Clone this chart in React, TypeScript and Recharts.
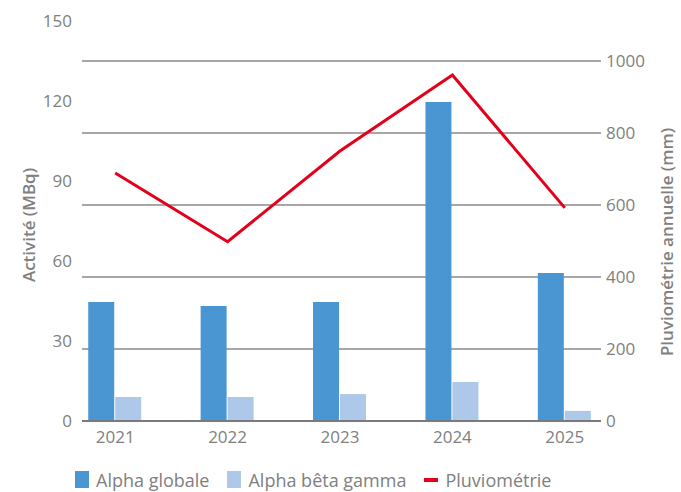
import { ComposedChart, Bar, Line, XAxis, YAxis, CartesianGrid, Legend } from "recharts"

const years = ["2021", "2022", "2023", "2024", "2025"]
const alphaGlobale = [44.6, 43.1, 44.6, 119.6, 55.5]
const alphaBetaGamma = [9, 9, 10.1, 14.6, 3.8]
const pluviometrie = [689, 498, 750, 961, 592]
const leftTicks = [0, 30, 60, 90, 120, 150]
const rightTicks = [0, 200, 400, 600, 800, 1000]

const data = years.map((year, i) => ({
  year,
  alpha: alphaGlobale[i],
  abg: alphaBetaGamma[i],
  pluvio: pluviometrie[i],
}))

const grey = "#808080"
const font = "'Open Sans', sans-serif"
const tick = { fontSize: 17, fill: grey, fontFamily: font }

function LegendContent({ payload }: any) {
  return (
    <div style={{ height: 41, boxSizing: "border-box", paddingTop: 20, display: "flex", alignItems: "flex-start", paddingLeft: 75, fontFamily: font, fontSize: 18, color: grey }}>
      {(payload || []).map((p: any) => (
        <div key={p.value} style={{ display: "flex", alignItems: "center", height: 17, marginRight: 18 }}>
          {p.type === "line" ? (
            <span style={{ display: "inline-block", width: 14, height: 4, background: p.color, marginRight: 7 }} />
          ) : (
            <span style={{ display: "inline-block", width: 14, height: 17, background: p.color, marginRight: 7 }} />
          )}
          {p.value}
        </div>
      ))}
    </div>
  )
}

export default function App() {
  return (
    <div style={{ position: "absolute", left: 0, top: 0, width: 681, height: 492, background: "white" }}>
      <ComposedChart width={681} height={492} data={data} margin={{ top: 21, right: 0, bottom: 0, left: 0 }} barGap={1} barCategoryGap="26%">
        <CartesianGrid yAxisId="right" vertical={false} horizontalValues={rightTicks} syncWithTicks={false} stroke="#8a8a8a" strokeWidth={1.5} />
        <XAxis
          dataKey="year"
          height={30}
          tick={tick}
          tickLine={false}
          axisLine={{ stroke: "#7a7a7a", strokeWidth: 2 }}
          tickMargin={4}
          padding={{ left: -23, right: -20 }}
        />
        <YAxis
          yAxisId="left"
          width={82}
          domain={[0, 150]}
          ticks={leftTicks}
          tick={tick}
          tickLine={false}
          axisLine={false}
          tickSize={0}
          tickMargin={10}
          label={{ value: "Activité (MBq)", angle: -90, position: "center", dx: -12, dy: 4, style: { fontSize: 17, fontWeight: 600, fill: grey, fontFamily: font } }}
        />
        <YAxis
          yAxisId="right"
          orientation="right"
          width={80}
          domain={[0, 1111.1]}
          ticks={rightTicks}
          tick={tick}
          tickLine={false}
          axisLine={false}
          tickSize={0}
          tickMargin={5}
          label={{ value: "Pluviométrie annuelle (mm)", angle: -90, position: "center", dx: 26, dy: 21, style: { fontSize: 17, fontWeight: 600, fill: grey, fontFamily: font } }}
        />
        <Legend verticalAlign="bottom" itemSorter={null as any} content={<LegendContent />} />
        <Bar yAxisId="left" dataKey="alpha" name="Alpha globale" fill="#4a96d2" isAnimationActive={false} />
        <Bar yAxisId="left" dataKey="abg" name="Alpha bêta gamma" fill="#aec8ea" isAnimationActive={false} />
        <Line yAxisId="right" dataKey="pluvio" name="Pluviométrie" type="linear" stroke="#e3001b" strokeWidth={3} dot={false} legendType="line" isAnimationActive={false} />
      </ComposedChart>
    </div>
  )
}
